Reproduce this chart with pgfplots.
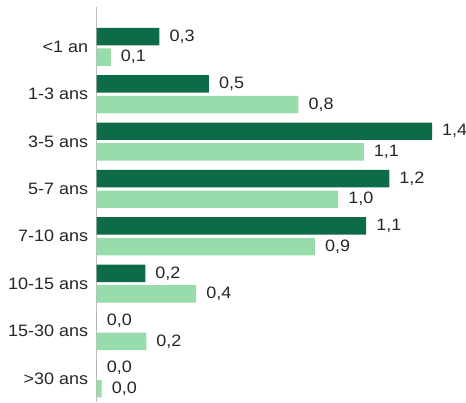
\documentclass[border=0pt]{standalone}
\usepackage{pgfplots}
\pgfplotsset{compat=1.18}
\usepackage{fontspec}
\setmainfont{Liberation Sans}[FakeStretch=1.09]
\definecolor{darkg}{RGB}{14,107,71}
\definecolor{lightg}{RGB}{152,220,172}
\definecolor{txt}{RGB}{38,38,38}
\definecolor{axgray}{RGB}{190,190,190}
\begin{document}
\begin{tikzpicture}
\useasboundingbox (-96.7pt,0pt) rectangle (369.3pt,402pt);
\begin{axis}[
  scale only axis,
  width=364.5pt, height=395pt,
  xmin=0, xmax=1.5,
  ymin=-0.842, ymax=7.5,
  y dir=reverse,
  axis y line*=left,
  axis x line=none,
  y axis line style={draw=axgray, line width=0.8pt},
  ytick={0,1,2,3,4,5,6,7},
  yticklabels={{<1 an},{1-3 ans},{3-5 ans},{5-7 ans},{7-10 ans},{10-15 ans},{15-30 ans},{>30 ans}},
  major tick length=0pt,
  yticklabel style={font=\fontsize{16.5}{19}\selectfont, text=txt, inner sep=0pt, xshift=-8.4pt},
  point meta=explicit symbolic,
  nodes near coords,
  nodes near coords style={font=\fontsize{16.5}{19}\selectfont, text=txt, anchor=west, inner sep=0pt, xshift=10pt},
  clip=false,
]
\addplot[xbar, bar width=0.368, bar shift=0, fill=darkg, draw=none] table[x=x, y=y, meta=l] {
x y l
0.258 -0.218 0,3
0.462 0.782 0,5
1.380 1.782 1,4
1.204 2.782 1,2
1.109 3.782 1,1
0.200 4.782 0,2
0.000 5.782 0,0
0.000 6.782 0,0
};
\addplot[xbar, bar width=0.368, bar shift=0, fill=lightg, draw=none] table[x=x, y=y, meta=l] {
x y l
0.058 0.218 0,1
0.830 1.218 0,8
1.099 2.218 1,1
0.994 3.218 1,0
0.898 4.218 0,9
0.409 5.218 0,4
0.204 6.218 0,2
0.020 7.218 0,0
};
\end{axis}
\end{tikzpicture}
\end{document}
